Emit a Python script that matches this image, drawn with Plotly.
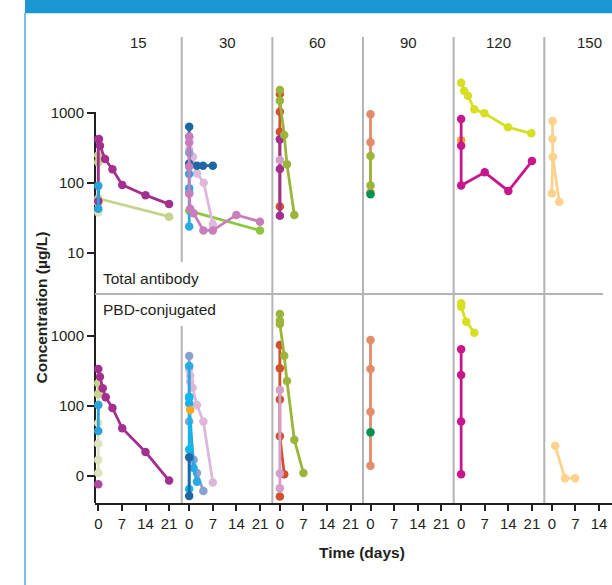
import plotly.graph_objects as go

# ---------------- data ----------------
PANELS = ["15", "30", "60", "90", "120", "150"]
DAY_TICKS = [0, 7, 14, 21]
Y_TICKS = [10, 100, 1000]
Y_TEXT_TOP = ["10", "100", "1000"]
Y_TEXT_BOT = ["0", "100", "1000"]
ROW_LABELS = ["Total antibody", "PBD-conjugated"]

# Total antibody (row 0)
TA15_MAG1_D = [0.2, 0.5, 2.0, 4.2, 7.1, 14.0, 21.0]
TA15_MAG1_C = [425, 341, 220, 157, 94, 67, 50]
TA15_MAG2_D = [0, 0]
TA15_MAG2_C = [420, 55]
TA15_OLV_D = [0, 0, 0, 21]
TA15_OLV_C = [250, 198, 60, 33]
TA15_PAL_D = [0, 0]
TA15_PAL_C = [52, 38]
TA15_BLU_D = [0, 0]
TA15_BLU_C = [91, 43]

TA30_DKB_D = [0, 0, 2.3, 4.1, 7.0]
TA30_DKB_C = [637, 190, 177, 176, 177]
TA30_STB_D = [0, 0]
TA30_STB_C = [460, 270]
TA30_CYN_D = [0, 0, 0, 0]
TA30_CYN_C = [134, 84, 73, 24]
TA30_GRN_D = [0, 21]
TA30_GRN_C = [40, 21]
TA30_LPK_D = [0, 1.1, 2.3, 4.3, 7.0]
TA30_LPK_C = [300, 238, 137, 101, 26]
TA30_PNK_D = [0, 0, 0, 0, 0.3, 1.3, 4.2, 7.0, 14.0, 21.0]
TA30_PNK_C = [460, 380, 170, 70, 43, 37, 21, 21, 35, 28]

TA60_RED_D = [0, 0, 0, 0]
TA60_RED_C = [1870, 1045, 541, 46]
TA60_MAG_D = [0, 0, 0]
TA60_MAG_C = [420, 159, 34]
TA60_LPK_D = [0]
TA60_LPK_C = [213]
TA60_OLV_D = [0, 0, 1.3, 2.1, 4.3]
TA60_OLV_C = [2131, 1500, 485, 185, 35]

TA90_SAL_D = [0, 0, 0]
TA90_SAL_C = [957, 381, 73]
TA90_OLV_D = [0, 0]
TA90_OLV_C = [243, 92]
TA90_DGR_D = [0]
TA90_DGR_C = [69]

TA120_YG_D = [0, 0.9, 2.0, 3.9, 6.9, 13.9, 20.8]
TA120_YG_C = [2711, 2084, 1766, 1128, 989, 624, 512]
TA120_MAG_D = [0, 0, 0, 7, 14, 21]
TA120_MAG_C = [820, 341, 92, 142, 77, 206]
TA120_ORG_D = [0]
TA120_ORG_C = [407]

TA150_LOR1_D = [0.2, 0.2, 0.3, 2.2]
TA150_LOR1_C = [769, 425, 235, 54]
TA150_LOR2_D = [0.3, 0.0]
TA150_LOR2_C = [235, 71]

# PBD-conjugated (row 1)
PB15_PAL_D = [0, 0, 0, 0, 0]
PB15_PAL_C = [150, 57, 29, 17, 11]
PB15_OLV_D = [0, 0]
PB15_OLV_C = [211, 148]
PB15_MAG_D = [0, 0.5, 1.3, 2.2, 4.2, 7.1, 14.0, 21.0]
PB15_MAG_C = [338, 262, 179, 133, 94, 48, 22, 8.6]
PB15_BLU_D = [0, 0]
PB15_BLU_C = [103, 44]
PB15_PNK_D = [0]
PB15_PNK_C = [7.6]

PB30_LPK_D = [0, 0.3, 0.3, 1.0, 2.3, 4.2, 7.0]
PB30_LPK_C = [334, 270, 222, 182, 103, 60, 8.1]
PB30_STB_D = [0, 0, 1.3, 2.3, 4.2]
PB30_STB_C = [518, 60, 17, 11, 6.1]
PB30_CYN_D = [0, 0, 0, 1.3, 2.3]
PB30_CYN_C = [373, 136, 109, 13, 8.3]
PB30_BCY_D = [0, 0, 0]
PB30_BCY_C = [130, 24, 6.5]
PB30_DKB_D = [0, 0]
PB30_DKB_C = [18.5, 5.2]
PB30_ORG_D = [0.3]
PB30_ORG_C = [88]

PB60_OLV_D = [0, 0, 0, 1.3, 2.1, 4.3, 7.0]
PB60_OLV_C = [2063, 1656, 1484, 523, 228, 33, 11]
PB60_RED_D = [0, 0, 0, 0, 1.3]
PB60_RED_C = [743, 345, 124, 37, 10.6]
PB60_RED2_D = [0]
PB60_RED2_C = [5.1]
PB60_LPK_D = [0, 0, 0]
PB60_LPK_C = [169, 10.9, 6.7]

PB90_SAL_D = [0, 0, 0, 0]
PB90_SAL_C = [877, 338, 83, 14]
PB90_DGR_D = [0]
PB90_DGR_C = [42]

PB120_YG_D = [0, 0, 1.5, 3.9]
PB120_YG_C = [2930, 2626, 1602, 1116]
PB120_MAG_D = [0, 0, 0, 0]
PB120_MAG_C = [645, 277, 60, 10.6]

PB150_LOR_D = [1.0, 3.9, 6.9]
PB150_LOR_C = [27, 9.3, 9.3]

# colours
C_MAG = "#a3308f"
C_OLV_L = "#c4d48a"
C_PALE = "#dfe4bf"
C_BLU = "#29a3dc"
C_DKB = "#1f67a3"
C_STB = "#8aa2cf"
C_CYN = "#27a9e1"
C_BCY = "#10b6ec"
C_GRN = "#8dc63f"
C_LPK = "#dcb8da"
C_PNK = "#c97dba"
C_RED = "#d2502b"
C_OLV = "#9bb53b"
C_LPK6 = "#d59ecb"
C_SAL = "#e28c68"
C_DGR = "#00924f"
C_YG = "#d7df23"
C_MAG2 = "#c8168d"
C_ORG = "#f7a823"
C_LOR = "#fdd28c"
C_PNK1 = "#b0489e"

# (row, panel, days, conc, colour)
SERIES = [
    (0, 0, TA15_OLV_D, TA15_OLV_C, C_OLV_L),
    (0, 0, TA15_PAL_D, TA15_PAL_C, C_PALE),
    (0, 0, TA15_MAG2_D, TA15_MAG2_C, C_MAG),
    (0, 0, TA15_MAG1_D, TA15_MAG1_C, C_MAG),
    (0, 0, TA15_BLU_D, TA15_BLU_C, C_BLU),
    (0, 1, TA30_GRN_D, TA30_GRN_C, C_GRN),
    (0, 1, TA30_LPK_D, TA30_LPK_C, C_LPK),
    (0, 1, TA30_CYN_D, TA30_CYN_C, C_CYN),
    (0, 1, TA30_STB_D, TA30_STB_C, C_STB),
    (0, 1, TA30_DKB_D, TA30_DKB_C, C_DKB),
    (0, 1, TA30_PNK_D, TA30_PNK_C, C_PNK),
    (0, 2, TA60_RED_D, TA60_RED_C, C_RED),
    (0, 2, TA60_MAG_D, TA60_MAG_C, C_MAG),
    (0, 2, TA60_LPK_D, TA60_LPK_C, C_LPK6),
    (0, 2, TA60_OLV_D, TA60_OLV_C, C_OLV),
    (0, 3, TA90_SAL_D, TA90_SAL_C, C_SAL),
    (0, 3, TA90_OLV_D, TA90_OLV_C, C_OLV),
    (0, 3, TA90_DGR_D, TA90_DGR_C, C_DGR),
    (0, 4, TA120_YG_D, TA120_YG_C, C_YG),
    (0, 4, TA120_ORG_D, TA120_ORG_C, C_ORG),
    (0, 4, TA120_MAG_D, TA120_MAG_C, C_MAG2),
    (0, 5, TA150_LOR2_D, TA150_LOR2_C, C_LOR),
    (0, 5, TA150_LOR1_D, TA150_LOR1_C, C_LOR),
    (1, 0, PB15_PAL_D, PB15_PAL_C, C_PALE),
    (1, 0, PB15_OLV_D, PB15_OLV_C, C_OLV_L),
    (1, 0, PB15_MAG_D, PB15_MAG_C, C_MAG),
    (1, 0, PB15_BLU_D, PB15_BLU_C, C_BLU),
    (1, 0, PB15_PNK_D, PB15_PNK_C, C_PNK1),
    (1, 1, PB30_LPK_D, PB30_LPK_C, C_LPK),
    (1, 1, PB30_STB_D, PB30_STB_C, C_STB),
    (1, 1, PB30_CYN_D, PB30_CYN_C, C_CYN),
    (1, 1, PB30_BCY_D, PB30_BCY_C, C_BCY),
    (1, 1, PB30_DKB_D, PB30_DKB_C, C_DKB),
    (1, 1, PB30_ORG_D, PB30_ORG_C, C_ORG),
    (1, 2, PB60_RED_D, PB60_RED_C, C_RED),
    (1, 2, PB60_RED2_D, PB60_RED2_C, C_RED),
    (1, 2, PB60_LPK_D, PB60_LPK_C, C_LPK6),
    (1, 2, PB60_OLV_D, PB60_OLV_C, C_OLV),
    (1, 3, PB90_SAL_D, PB90_SAL_C, C_SAL),
    (1, 3, PB90_DGR_D, PB90_DGR_C, C_DGR),
    (1, 4, PB120_YG_D, PB120_YG_C, C_YG),
    (1, 4, PB120_MAG_D, PB120_MAG_C, C_MAG2),
    (1, 5, PB150_LOR_D, PB150_LOR_C, C_LOR),
]

# ---------------- layout geometry (pixels) ----------------
W, H = 612, 585
FONT = "Liberation Sans, Arial, sans-serif"
TXT = "#231f20"
GRAY = "#b3b4b8"
BLUE = "#1b98d4"
PX_PER_DAY = 23.6 / 7
AX_LEFT = 95
SEP0 = 181.7
SEP_STEP = 90.65
ZERO_GAP = 7.5
SEPS = [SEP0 + SEP_STEP * k for k in range(5)]
COL_L = [AX_LEFT] + SEPS
COL_R = SEPS + [W]
ZEROS = [98.3] + [s + ZERO_GAP for s in SEPS]
TOP_Y0, MID_Y, BOT_Y = 37, 294, 503


def px(x):
    return x / W


def py(y):
    return 1 - y / H


fig = go.Figure()
for row, panel, d, c, col in SERIES:
    xa = "x" if panel == 0 else f"x{panel + 1}"
    ya = "y" if row == 0 else "y2"
    fig.add_trace(go.Scatter(
        x=d, y=c, mode="lines+markers", xaxis=xa, yaxis=ya,
        line=dict(color=col, width=2.8),
        marker=dict(color=col, size=8.5),
        cliponaxis=False, showlegend=False, hoverinfo="skip"))

layout = dict(
    width=W, height=H, margin=dict(l=0, r=0, t=0, b=0),
    paper_bgcolor="white", plot_bgcolor="rgba(0,0,0,0)",
    font=dict(family=FONT, color=TXT, size=15),
    showlegend=False,
)

for k in range(6):
    key = "xaxis" if k == 0 else f"xaxis{k + 1}"
    layout[key] = dict(
        domain=[px(COL_L[k]), px(COL_R[k])],
        range=[(COL_L[k] - ZEROS[k]) / PX_PER_DAY, (COL_R[k] - ZEROS[k]) / PX_PER_DAY],
        anchor="y2", showline=True, linecolor=TXT, linewidth=2,
        ticks="outside", ticklen=6, tickwidth=2, tickcolor=TXT,
        tickvals=DAY_TICKS, ticktext=[str(t) for t in DAY_TICKS],
        tickfont=dict(size=15, color=TXT),
        showgrid=False, zeroline=False, fixedrange=True,
    )

layout["yaxis"] = dict(
    domain=[py(MID_Y), py(TOP_Y0)], type="log",
    range=[3 - (MID_Y - 113) / 70, 3 + (113 - TOP_Y0) / 70],
    anchor="x", tickvals=Y_TICKS, ticktext=Y_TEXT_TOP,
    ticks="outside", ticklen=7, tickwidth=2, tickcolor=TXT,
    tickfont=dict(size=15, color=TXT),
    showline=False, showgrid=False, zeroline=False, fixedrange=True,
)
layout["yaxis2"] = dict(
    domain=[py(BOT_Y), py(MID_Y)], type="log",
    range=[3 - (BOT_Y - 336) / 70, 3 + (336 - MID_Y) / 70],
    anchor="x", tickvals=Y_TICKS, ticktext=Y_TEXT_BOT,
    ticks="outside", ticklen=7, tickwidth=2, tickcolor=TXT,
    tickfont=dict(size=15, color=TXT),
    showline=False, showgrid=False, zeroline=False, fixedrange=True,
)

shapes = [
    dict(type="rect", xref="paper", yref="paper", x0=px(25), x1=1, y0=py(13.3), y1=1,
         fillcolor=BLUE, line=dict(width=0)),
    dict(type="line", xref="paper", yref="paper", x0=px(25), x1=px(25), y0=0, y1=py(13),
         line=dict(color=BLUE, width=1.2)),
    dict(type="line", xref="paper", yref="paper", x0=px(AX_LEFT), x1=px(AX_LEFT),
         y0=py(BOT_Y), y1=py(112), line=dict(color=TXT, width=2), layer="below"),
    dict(type="line", xref="paper", yref="paper", x0=px(AX_LEFT), x1=px(603),
         y0=py(MID_Y), y1=py(MID_Y), line=dict(color=GRAY, width=2), layer="below"),
]
for i, s in enumerate(SEPS):
    segs = [(TOP_Y0, 262), (326, BOT_Y)] if i == 0 else [(TOP_Y0, BOT_Y)]
    for a, b in segs:
        shapes.append(dict(type="line", xref="paper", yref="paper", x0=px(s), x1=px(s),
                           y0=py(b), y1=py(a), line=dict(color=GRAY, width=2), layer="below"))
layout["shapes"] = shapes

ann = []
for k, name in enumerate(PANELS):
    cx = (COL_L[k] + (COL_R[k] if k < 5 else SEPS[4] + SEP_STEP)) / 2
    ann.append(dict(text=name, x=px(cx), y=py(43), xref="paper", yref="paper",
                    showarrow=False, xanchor="center", yanchor="middle",
                    font=dict(size=15, color=TXT)))
ann.append(dict(text=ROW_LABELS[0], x=px(101), y=py(278), xref="paper", yref="paper",
                showarrow=False, xanchor="left", yanchor="middle",
                font=dict(size=15.5, color=TXT)))
ann.append(dict(text=ROW_LABELS[1], x=px(101), y=py(309), xref="paper", yref="paper",
                showarrow=False, xanchor="left", yanchor="middle",
                font=dict(size=15.5, color=TXT)))
ann.append(dict(text="<b>Concentration (µg/L)</b>", x=px(41), y=py(307.5), xref="paper",
                yref="paper", showarrow=False, textangle=-90, xanchor="center",
                yanchor="middle", font=dict(size=15.5, color=TXT)))
ann.append(dict(text="<b>Time (days)</b>", x=px(362), y=py(552), xref="paper", yref="paper",
                showarrow=False, xanchor="center", yanchor="middle",
                font=dict(size=15.5, color=TXT)))
layout["annotations"] = ann

fig.update_layout(**layout)
fig.write_html(
    "out.html",
    config={"displayModeBar": False, "staticPlot": True},
    post_script="document.body.style.margin='0';document.body.style.padding='0';"
                "document.body.style.overflow='hidden';",
)
